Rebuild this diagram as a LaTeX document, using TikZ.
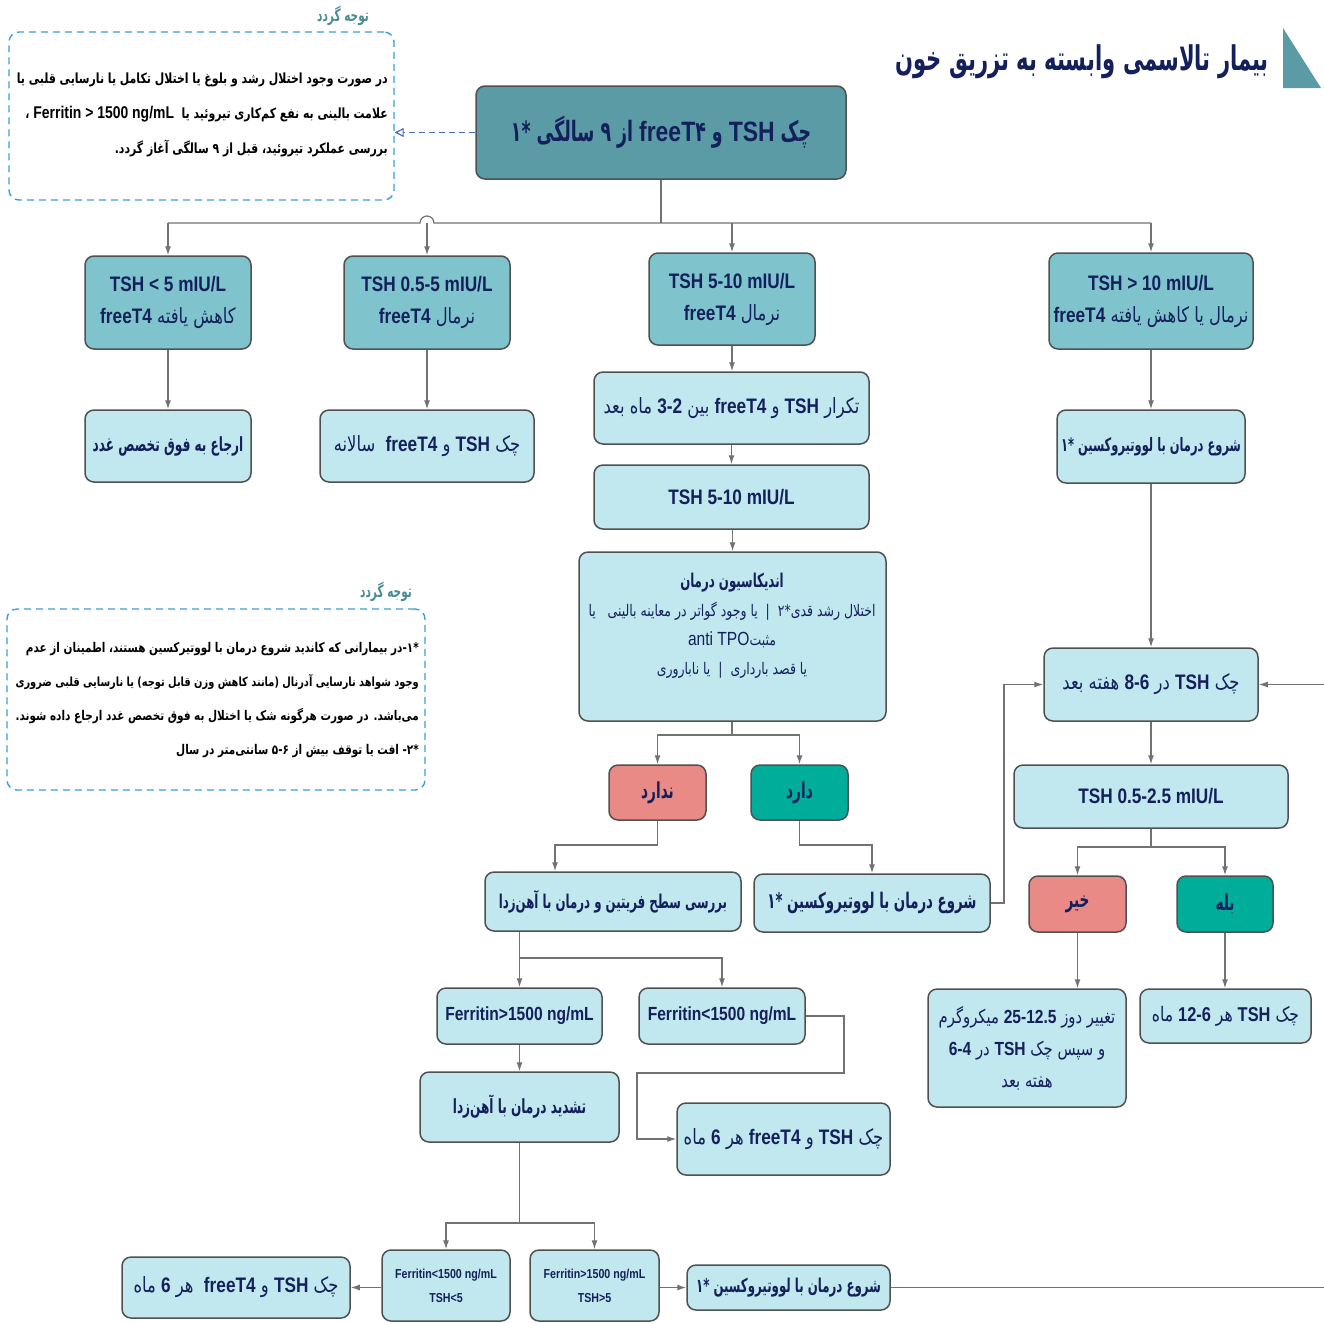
\documentclass[tikz,border=0pt]{standalone}
\usepackage{fontspec}
\usetikzlibrary{arrows.meta,calc}
\setmainfont{Liberation Sans}[FakeStretch=0.82]
\newfontfamily\fa{DejaVu Sans}[Script=Arabic,FakeStretch=0.78]
\newfontfamily\fab{DejaVu Sans Bold}[Script=Arabic,FakeStretch=0.62]
\TeXXeTstate=1
\newcommand\RR[1]{\beginR#1\endR}
\newcommand\LL[1]{\beginL{\rmfamily\bfseries #1}\endL}
\newcommand\LLn[1]{\beginL{\rmfamily #1}\endL}
\newcommand\fs[2]{\fontsize{#1}{#2}\selectfont}
\definecolor{navy}{HTML}{13205C}
\definecolor{darkteal}{HTML}{5B9BA5}
\definecolor{midteal}{HTML}{7FC4CD}
\definecolor{lightbox}{HTML}{C1E8EE}
\definecolor{salmon}{HTML}{E98A86}
\definecolor{yesteal}{HTML}{00AC9A}
\definecolor{edgegray}{HTML}{505050}
\definecolor{conn}{HTML}{727272}
\definecolor{dashblue}{HTML}{3B9FD6}
\definecolor{labteal}{HTML}{4A8C96}
\definecolor{dasharr}{HTML}{4A6DB3}
\tikzset{
  box/.style={draw=edgegray, line width=1.5pt, rounded corners=9pt, text=navy, align=center, inner sep=0pt, font=\fa\fs{20}{30}},
  dk/.style={box, fill=darkteal},
  md/.style={box, fill=midteal},
  lt/.style={box, fill=lightbox},
  nobox/.style={box, fill=salmon},
  yesbox/.style={box, fill=yesteal},
  arr/.style={draw=conn, line width=1.2pt, -{Latex[length=9pt,width=6pt]}},
  ln/.style={draw=conn, line width=1.2pt},
  note/.style={draw=dashblue, dash pattern=on 7pt off 5pt, line width=1.4pt, rounded corners=10pt, inner sep=0pt},
  notelab/.style={text=labteal, font=\fab\fs{17}{20}},
  notetext/.style={text=black, align=right, inner sep=0pt, font=\fa\bfseries\fs{14}{35}},
}
\begin{document}
\begin{tikzpicture}[x=1pt,y=-1pt]
\useasboundingbox (0,0) rectangle (1324,1323);
\fill[white] (0,0) rectangle (1324,1323);
\clip (0,0) rectangle (1324,1323);

% title
\fill[darkteal] (1283,28) -- (1283,88) -- (1321,88) -- cycle;
\node[anchor=east, text=navy, inner sep=0pt, font=\fab\fs{34}{40}] (title) at (1269,62) {\RR{بیمار تالاسمی وابسته به تزریق خون}};

% top box
\node[dk, minimum width=370, minimum height=93, font=\fab\fs{28}{30}] (top) at (661,132.5)
  {\RR{چک \LL{TSH} و \beginL{\rmfamily\bfseries freeT}{\fab ۴}\endL{} از ۹ سالگی *۱}};

% note 1
\node[note, minimum width=385, minimum height=168] (note1) at (201.5,116) {};
\node[notelab] (note1l) at (343,16) {\RR{توجه گردد}};
\node[notetext, anchor=east] (note1t) at (388,115) {%
\RR{در صورت وجود اختلال رشد و بلوغ یا اختلال تکامل یا نارسایی قلبی یا}\\
\RR{علامت بالینی به نفع کم‌کاری تیروئید یا \ \LL{\fs{17}{35}Ferritin > 1500 ng/mL} ،}\\
\RR{بررسی عملکرد تیروئید، قبل از ۹ سالگی آغاز گردد.}};
\draw[draw=dasharr, dash pattern=on 6pt off 4pt, line width=1.2pt, -{Triangle[open,length=9pt,width=9pt]}] (top.west) -- (note1.east |- top.west);

% note 2
\node[note, minimum width=418, minimum height=181] (note2) at (216,699.5) {};
\node[notelab] (note2l) at (386,592) {\RR{توجه گردد}};
\node[notetext, anchor=east, font=\fa\bfseries\fs{13.4}{34}] (note2t) at (419,700) {%
\RR{*۱-در بیمارانی که کاندید شروع درمان با لووتیرکسین هستند، اطمینان از عدم}\\
{\fs{12.6}{34}\RR{وجود شواهد نارسایی آدرنال (مانند کاهش وزن قابل توجه) یا نارسایی قلبی ضروری}}\\
\RR{می‌باشد. در صورت هرگونه شک یا اختلال به فوق تخصص غدد ارجاع داده شوند.}\\
\RR{*۲- افت یا توقف بیش از ۵-۶ سانتی‌متر در سال}};

% row 1
\node[md, minimum width=166, minimum height=93, font=\fa\fs{21}{32}] (n1) at (168,302.5)
  {\LL{TSH < 5 mIU/L}\\\RR{کاهش یافته \LL{freeT4}}};
\node[md, minimum width=166, minimum height=93, font=\fa\fs{21}{32}] (n2) at (427,302.5)
  {\LL{TSH 0.5-5 mIU/L}\\\RR{نرمال \LL{freeT4}}};
\node[md, minimum width=166, minimum height=92, font=\fa\fs{21}{32}] (n3) at (732,299)
  {\LL{TSH 5-10 mIU/L}\\\RR{نرمال \LL{freeT4}}};
\node[md, minimum width=204, minimum height=96, font=\fa\fs{21}{32}] (n4) at (1151,301)
  {\LL{TSH > 10 mIU/L}\\\RR{نرمال یا کاهش یافته \LL{freeT4}}};

% row 2
\node[lt, minimum width=166, minimum height=72, font=\fab\fs{19.5}{30}] (r1) at (168,446) {\RR{ارجاع به فوق تخصص غدد}};
\node[lt, minimum width=214, minimum height=72, font=\fa\fs{21}{30}] (r2) at (427,446) {\RR{چک \LL{TSH} و \LL{freeT4} \ سالانه}};
\node[lt, minimum width=275, minimum height=72, font=\fa\fs{21}{30}] (r3) at (731.5,408) {\RR{تکرار \LL{TSH} و \LL{freeT4} بین \LL{3-2} ماه بعد}};
\node[lt, minimum width=188, minimum height=73, font=\fab\fs{18.5}{30}] (r4) at (1151,446.5) {\RR{شروع درمان با لووتیروکسین *۱}};

\node[lt, minimum width=275, minimum height=64, font=\fa\fs{21}{30}] (t510) at (731.5,497) {\LL{TSH 5-10 mIU/L}};
\node[lt, minimum width=307, minimum height=169] (ind) at (732.5,636.5) {};
\node[text=navy, align=center, inner sep=0pt, font=\fa\fs{16}{29}] (indt) at (732,626) {%
  {\fab\fs{19}{29}\RR{اندیکاسیون درمان}}\\
  \RR{اختلال رشد قدی*۲ \ | \ یا وجود گواتر در معاینه بالینی \ \ یا}\\
  \RR{مثبت\LLn{\fs{19}{29}anti TPO}}\\
  \RR{یا قصد بارداری \ | \ یا ناباروری}};

\node[nobox, minimum width=97, minimum height=55, font=\fab\fs{22}{30}] (nadarad) at (657.5,792.5) {\RR{ندارد}};
\node[yesbox, minimum width=97, minimum height=55, font=\fab\fs{22}{30}] (darad) at (799.5,792.5) {\RR{دارد}};

\node[lt, minimum width=256, minimum height=59, font=\fab\fs{19}{30}] (ferr) at (613,901.5) {\RR{بررسی سطح فریتین و درمان با آهن‌زدا}};
\node[lt, minimum width=236, minimum height=58, font=\fab\fs{21.5}{30}] (levo1) at (872,903) {\RR{شروع درمان با لووتیروکسین *۱}};

\node[lt, minimum width=214, minimum height=73, font=\fa\fs{21}{30}] (chk86) at (1151,684.5) {\RR{چک \LL{TSH} در \LL{8-6} هفته بعد}};
\node[lt, minimum width=274, minimum height=63, font=\fa\fs{21}{30}] (tsh25) at (1151,796.5) {\LL{TSH 0.5-2.5 mIU/L}};
\node[nobox, minimum width=97, minimum height=56, font=\fab\fs{22}{30}] (kheir) at (1077.5,904) {\RR{خیر}};
\node[yesbox, minimum width=96, minimum height=56, font=\fab\fs{22}{30}] (baleh) at (1225,904) {\RR{بله}};
\node[lt, minimum width=198, minimum height=118, font=\fa\fs{19}{32}] (dose) at (1027,1048)
  {\RR{تغییر دوز \LL{25-12.5} میکروگرم}\\\RR{و سپس چک \LL{TSH} در \LL{6-4}}\\\RR{هفته بعد}};
\node[lt, minimum width=171, minimum height=54, font=\fa\fs{20}{30}] (chk126) at (1225.5,1016) {\RR{چک \LL{TSH} هر \LL{12-6} ماه}};

\node[lt, minimum width=165, minimum height=56, font=\fa\fs{19}{30}] (fgt) at (519.5,1016) {\LL{Ferritin>1500 ng/mL}};
\node[lt, minimum width=166, minimum height=56, font=\fa\fs{19}{30}] (flt) at (722,1016) {\LL{Ferritin<1500 ng/mL}};
\node[lt, minimum width=213, minimum height=72, font=\fa\fs{21}{30}] (chk6a) at (783.5,1139) {\RR{چک \LL{TSH} و \LL{freeT4} هر \LL{6} ماه}};
\node[lt, minimum width=199, minimum height=70, font=\fab\fs{19.5}{30}] (tashdid) at (519.5,1107) {\RR{تشدید درمان با آهن‌زدا}};

\node[lt, minimum width=128, minimum height=71, font=\fa\fs{13}{24}] (fl5) at (446,1285.5) {\LL{Ferritin<1500 ng/mL}\\\LL{TSH<5}};
\node[lt, minimum width=129, minimum height=71, font=\fa\fs{13}{24}] (fg5) at (594.5,1285.5) {\LL{Ferritin>1500 ng/mL}\\\LL{TSH>5}};
\node[lt, minimum width=228, minimum height=61, font=\fa\fs{21}{30}] (chk6b) at (236,1287.5) {\RR{چک \LL{TSH} و \LL{freeT4} \ هر \LL{6} ماه}};
\node[lt, minimum width=203, minimum height=45, font=\fab\fs{19}{30}] (levo2) at (788.5,1287.5) {\RR{شروع درمان با لووتیروکسین *۱}};

% connectors
\coordinate (bus) at (661,223);
\draw[ln] (top.south) -- (bus);
\draw[ln] (168,223) -- (420,223) arc[start angle=180, end angle=360, radius=7] -- (1151,223);
\draw[arr] (n1.north |- bus) -- (n1.north);
\draw[arr] (n2.north |- bus) -- (n2.north);
\draw[arr] (n3.north |- bus) -- (n3.north);
\draw[arr] (n4.north |- bus) -- (n4.north);
\draw[arr] (n1) -- (r1);
\draw[arr] (n2) -- (r2);
\draw[arr] (n3.south) -- (n3.south |- r3.north);
\draw[arr] (r3.south -| t510.north) -- (t510.north);
\draw[arr] (t510.south -| ind.north) -- (ind.north);
\draw[arr] (n4) -- (r4);
\draw[arr] (r4) -- (chk86);

\coordinate (ib) at (732,735);
\draw[ln] (ind.south -| ib) -- (ib);
\draw[arr] (ib) -| (nadarad.north);
\draw[arr] (ib) -| (darad.north);
\coordinate (nb) at (555,845);
\draw[arr] (nadarad.south) |- (nb) -- (nb |- ferr.north);
\coordinate (db) at (872,845);
\draw[arr] (darad.south) |- (db) -- (levo1.north);
\coordinate (lv) at (1004,903);
\draw[arr] (levo1.east) -- (lv) |- (chk86.west);

\draw[arr] (chk86) -- (tsh25);
\coordinate (tb) at (1151,847);
\draw[ln] (tsh25.south) -- (tb);
\draw[arr] (tb) -| (kheir.north);
\draw[arr] (tb) -| (baleh.north);
\draw[arr] (kheir.south) -- (kheir.south |- dose.north);
\draw[arr] (baleh.south) -- (baleh.south |- chk126.north);

\coordinate (fb) at (519.5,958);
\draw[ln] (fb |- ferr.south) -- (fb);
\draw[arr] (fb) -- (fgt.north);
\draw[arr] (fb) -| (flt.north);
\draw[arr] (flt.east) -- (844,1016) -- (844,1073) -- (637,1073) |- (chk6a.west);
\draw[arr] (fgt) -- (tashdid);
\coordinate (tdb) at (519.5,1223);
\draw[ln] (tashdid.south) -- (tdb);
\draw[arr] (tdb) -| (fl5.north);
\draw[arr] (tdb) -| (fg5.north);
\draw[arr] (fl5.west |- chk6b.east) -- (chk6b.east);
\draw[arr] (fg5.east |- levo2.west) -- (levo2.west);
\draw[arr] (levo2.east) -- (1335,1287.5) |- (chk86.east);
\end{tikzpicture}
\end{document}
